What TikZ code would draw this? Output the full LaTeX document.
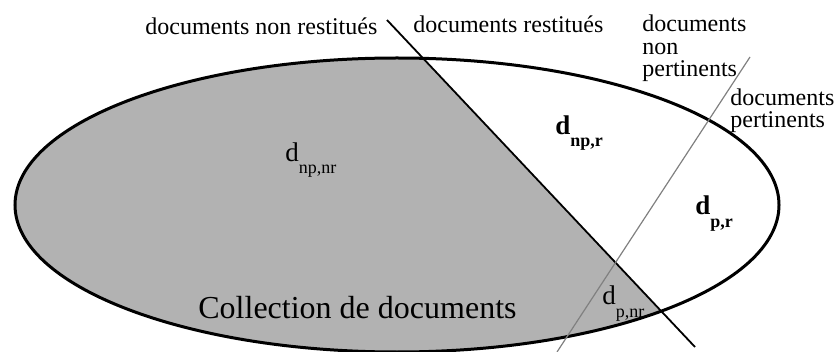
\documentclass[tikz,border=0pt]{standalone}
\usepackage{fontspec}
\setmainfont{Liberation Serif}
\usepackage{tikz}
\definecolor{colorFill}{rgb}{0.70,0.70,0.70}
\definecolor{colorLine}{rgb}{0.5,0.5,0.5}
\newcommand*{\dsub}[1]{d\raisebox{-6pt}{\fontsize{9}{9}\selectfont #1}}
\newcommand*{\dsubB}[1]{\textbf{\dsub{#1}}}

\begin{document}
\begin{tikzpicture}[x=0.5pt,y=-0.5pt,
		lab/.style={anchor=base west, inner sep=0pt, align=left, font=\fontsize{12}{11.25}\selectfont},
		dlab/.style={anchor=base west, inner sep=0pt, font=\fontsize{13.5}{13.5}\selectfont},
	]
		\useasboundingbox (0,0) rectangle (835,352);
		\coordinate (c) at (397,205);
		\coordinate (rtop) at (387,20);
		\coordinate (rbot) at (695,347);
		\coordinate (ptop) at (750,57);
		\coordinate (pbot) at (557,352);
		%
		\begin{scope}
			\clip (c) ellipse [x radius=191pt, y radius=73.5pt];
			\fill[colorFill] (-10,-100) -- (274,-100) -- (801,460) -- (-10,460) -- cycle;
		\end{scope}
		\draw[line width=1.5pt] (c) ellipse [x radius=191pt, y radius=73.5pt];
		\draw[line width=0.9pt] (rtop) -- (rbot);
		\draw[colorLine, line width=0.6pt] (ptop) -- (pbot);
		%
		\node[lab] (nonrest) at (145,35) {documents non restitués};
		\node[lab] (rest) at (413,33) {documents restitués};
		\node[lab] (nonpert) at (642,77) {documents\\non\\pertinents};
		\node[lab] (pert) at (730,128) {documents\\pertinents};
		%
		\node[dlab] (dnpnr) at (285,162) {\dsub{np,nr}};
		\node[dlab] (dnpr) at (555,135) {\dsubB{np,r}};
		\node[dlab] (dpr) at (695,215) {\dsubB{p,r}};
		\node[dlab] (dpnr) at (602,305) {\dsub{p,nr}};
		%
		\node[anchor=base west, inner sep=0pt, font=\fontsize{16}{16}\selectfont] (coll) at (198,318) {Collection de documents};
	\end{tikzpicture}
\end{document}
